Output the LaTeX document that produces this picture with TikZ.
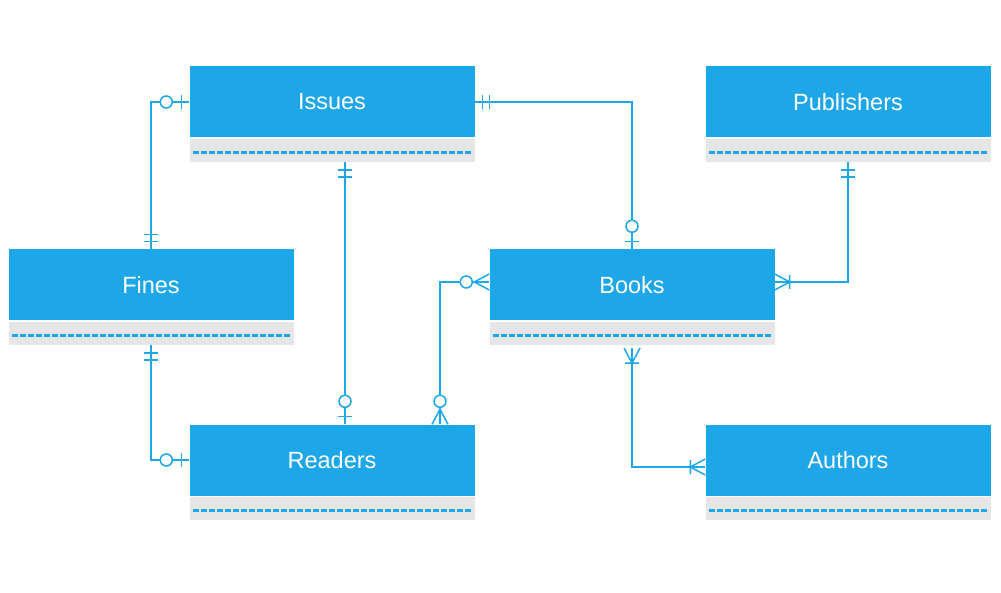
\documentclass[tikz,border=0pt]{standalone}
\usepackage{fontspec}
\setmainfont{Liberation Sans}
\usepackage{tikz}
\usetikzlibrary{positioning, calc}
\definecolor{erblue}{HTML}{1DA6E8}
\definecolor{ergrey}{HTML}{E6E6E6}
\tikzset{
    erhead/.style={fill=erblue, text=white, minimum width=285pt, minimum height=71pt, inner sep=0pt, font=\fontsize{23.5}{27}\selectfont},
    erattr/.style={fill=ergrey, minimum width=285pt, minimum height=23pt, inner sep=0pt, below=1pt of #1,
        path picture={\draw[erblue, line width=2.3pt, dash pattern=on 6pt off 2pt] ([xshift=3pt,yshift=-2pt]path picture bounding box.west) -- ([xshift=-3pt,yshift=-2pt]path picture bounding box.east);}},
    erline/.style={draw=erblue, line width=1.5pt},
}
\tikzset{
    onlyone/.pic={\draw[erline] (8,-7) -- (8,7) (15,-7) -- (15,7);},
    zeroone/.pic={\draw[erline] (8,-7) -- (8,7); \draw[erline, fill=white] (23,0) circle (6pt);},
    zeromany/.pic={\draw[erline] (0,-8) -- (15,0) -- (0,8); \draw[erline, fill=white] (23,0) circle (6pt);},
    onemany/.pic={\draw[erline] (0,-8) -- (15,0) -- (0,8) (15,-7) -- (15,7);},
}

\begin{document}
\begin{tikzpicture}[x=1pt, y=-1pt]
    \useasboundingbox (0,0) rectangle (1001,593);
    % Entities
    \node[erhead] (issues) at (332,102)     {Issues};      \node[erattr=issues] (issuesattr) {};
    \node[erhead] (publishers) at (848,102) {Publishers};  \node[erattr=publishers] (pubattr) {};
    \node[erhead] (fines) at (151,285)      {Fines};       \node[erattr=fines] (finesattr) {};
    \node[erhead] (books) at (632,285)      {Books};       \node[erattr=books] (booksattr) {};
    \node[erhead] (readers) at (332,460)    {Readers};     \node[erattr=readers] (readersattr) {};
    \node[erhead] (authors) at (848,460)    {Authors};     \node[erattr=authors] (authorsattr) {};
    % Extra attachment points
    \coordinate (ir) at ([xshift=13pt]issuesattr.south);
    \coordinate (ri) at ([xshift=13pt]readers.north);
    \coordinate (rb) at ([xshift=108pt]readers.north);
    \coordinate (bw) at ([yshift=3pt]books.west);
    \coordinate (be) at ([yshift=3pt]books.east);
    \coordinate (bs) at ([yshift=-3pt]booksattr.south);
    \coordinate (aw) at ([yshift=-7pt]authors.west);
    % Relationships
    \draw[erline] (issues.west) -| (fines.north);
    \draw[erline] (issues.east) -| (books.north);
    \draw[erline] (ir) -- (ri);
    \draw[erline] (bw) -| (rb);
    \draw[erline] (pubattr.south) |- (be);
    \draw[erline] (bs) |- (aw);
    \draw[erline] (finesattr.south) |- (readers.west);
    % Cardinalities
    \pic[rotate=180] at (issues.west) {zeroone};    \pic[rotate=90] at (fines.north) {onlyone};
    \pic at (issues.east) {onlyone};                \pic[rotate=90] at (books.north) {zeroone};
    \pic[rotate=-90] at (ir) {onlyone};             \pic[rotate=90] at (ri) {zeroone};
    \pic[rotate=180] at (bw) {zeromany};            \pic[rotate=90] at (rb) {zeromany};
    \pic[rotate=-90] at (pubattr.south) {onlyone};  \pic at (be) {onemany};
    \pic[rotate=-90] at (bs) {onemany};             \pic[rotate=180] at (aw) {onemany};
    \pic[rotate=-90] at (finesattr.south) {onlyone}; \pic[rotate=180] at (readers.west) {zeroone};
\end{tikzpicture}
\end{document}
